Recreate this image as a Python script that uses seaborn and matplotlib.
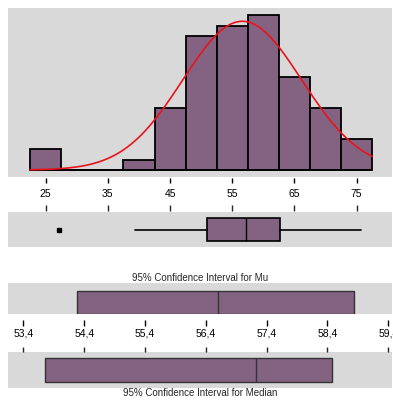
import numpy as np
import pandas as pd
import matplotlib
matplotlib.use("Agg")
import matplotlib.pyplot as plt
import seaborn as sns

# histogram: bin centres (width 5) and counts
bin_centers = [25, 30, 35, 40, 45, 50, 55, 60, 65, 70, 75]
bin_counts = [2, 0, 0, 1, 6, 13, 14, 15, 9, 6, 3]
hist_ticks = [25, 35, 45, 55, 65, 75]

# fitted normal
mean_value = 56.6
sd_value = 9.55

# boxplot summary
box_q1 = 51.0
box_median = 57.2
box_q3 = 62.7
whisker_low = 39.4
whisker_high = 75.7
outliers = [27.2]

# confidence intervals
mu_ci = [54.28, 58.84]
median_ci = [53.75, 58.48]
median_value = 57.23
ci_ticks = [53.4, 54.4, 55.4, 56.4, 57.4, 58.4, 59.4]
ci_tick_labels = ["53,4", "54,4", "55,4", "56,4", "57,4", "58,4", "59,4"]

W, H = 393, 400
BG = "#d9d9d9"
BAR = "#836381"
PX = 72 / 100  # points per pixel at dpi 100

sns.set_style("white")
plt.rcParams["font.family"] = ["Liberation Sans", "DejaVu Sans"]


def box_from_px(left, top, right, bottom):
    return [left / W, 1 - bottom / H, (right - left) / W, (bottom - top) / H]


def clean(ax):
    for s in ax.spines.values():
        s.set_visible(False)
    ax.set_facecolor(BG)
    ax.set_yticks([])
    ax.set_ylabel("")
    ax.set_xlabel("")


fig = plt.figure(figsize=(W / 100, H / 100), dpi=100)

# --- histogram with normal curve
ax_h = fig.add_axes(box_from_px(8, 8, 392, 177))
hist_df = pd.DataFrame({"value": bin_centers, "count": bin_counts})
edges = [22.5 + 5 * i for i in range(len(bin_centers) + 1)]
sns.histplot(data=hist_df, x="value", weights="count", bins=edges, ax=ax_h,
             color=BAR, alpha=1, edgecolor="black", linewidth=1.3)
ax_h.hlines(0, edges[0], edges[-1], color="black", linewidth=1.3)
xs = np.linspace(edges[0], edges[-1], 200)
ys = sum(bin_counts) * 5 * np.exp(-0.5 * ((xs - mean_value) / sd_value) ** 2) / (sd_value * np.sqrt(2 * np.pi))
sns.lineplot(x=xs, y=ys, ax=ax_h, color="#e8141c", linewidth=1.2)
ax_h.set_xlim(18.94, 80.68)
ax_h.set_ylim(-0.68, 15.7)
ax_h.set_xticks(hist_ticks)
clean(ax_h)
ax_h.spines["bottom"].set_position(("outward", 1 * PX))
ax_h.tick_params(axis="x", direction="out", length=5 * PX, width=1,
                 pad=4, labelsize=7.5, colors="black", bottom=True)

# --- boxplot
ax_b = fig.add_axes(box_from_px(8, 212, 392, 247))
stats = [dict(med=box_median, q1=box_q1, q3=box_q3, whislo=whisker_low,
              whishi=whisker_high, fliers=outliers)]
ax_b.bxp(stats, positions=[0], widths=0.68, orientation="horizontal",
         patch_artist=True, showcaps=False,
         boxprops=dict(facecolor=BAR, edgecolor="black", linewidth=1.2),
         medianprops=dict(color="black", linewidth=1),
         whiskerprops=dict(color="black", linewidth=1.2),
         flierprops=dict(marker="s", markersize=3, markerfacecolor="black",
                         markeredgecolor="black"))
ax_b.set_xlim(18.94, 80.68)
ax_b.set_ylim(-0.5, 0.5)
ax_b.set_xticks(hist_ticks)
clean(ax_b)
ax_b.xaxis.set_ticks_position("top")
ax_b.spines["top"].set_position(("outward", 1 * PX))
ax_b.tick_params(axis="x", direction="out", length=6 * PX, width=1,
                 labeltop=False, labelbottom=False, top=True, bottom=False)

# --- CI for mu
ax_m = fig.add_axes(box_from_px(8, 283, 392, 314))
ax_m.barh([0], [mu_ci[1] - mu_ci[0]], left=mu_ci[0], height=1,
          color=BAR, edgecolor="#333333", linewidth=1)
ax_m.vlines(mean_value, -0.5, 0.5, color="#333333", linewidth=1)
ax_m.set_xlim(53.148, 59.461)
ax_m.set_ylim(-0.5, 0.85)
ax_m.set_xticks(ci_ticks, ci_tick_labels)
clean(ax_m)
ax_m.spines["bottom"].set_position(("outward", 6 * PX))
ax_m.tick_params(axis="x", direction="out", length=6 * PX, width=1,
                 pad=2, labelsize=7.5, colors="black", bottom=True)

# --- CI for median
ax_d = fig.add_axes(box_from_px(8, 352, 392, 388))
ax_d.barh([0], [median_ci[1] - median_ci[0]], left=median_ci[0], height=1,
          color=BAR, edgecolor="#333333", linewidth=1)
ax_d.vlines(median_value, -0.5, 0.5, color="#333333", linewidth=1)
ax_d.set_xlim(53.148, 59.461)
ax_d.set_ylim(-0.77, 0.77)
ax_d.set_xticks(ci_ticks)
clean(ax_d)
ax_d.xaxis.set_ticks_position("top")
ax_d.spines["top"].set_position(("outward", 0))
ax_d.tick_params(axis="x", direction="out", length=5 * PX, width=1,
                 labeltop=False, labelbottom=False, top=True, bottom=False)

fig.text(200 / W, 1 - 278 / H, "95% Confidence Interval for Mu",
         ha="center", va="center", fontsize=7)
fig.text(200 / W, 1 - 392.5 / H, "95% Confidence Interval for Median",
         ha="center", va="center", fontsize=7)

fig.savefig("out.png", dpi=100)
